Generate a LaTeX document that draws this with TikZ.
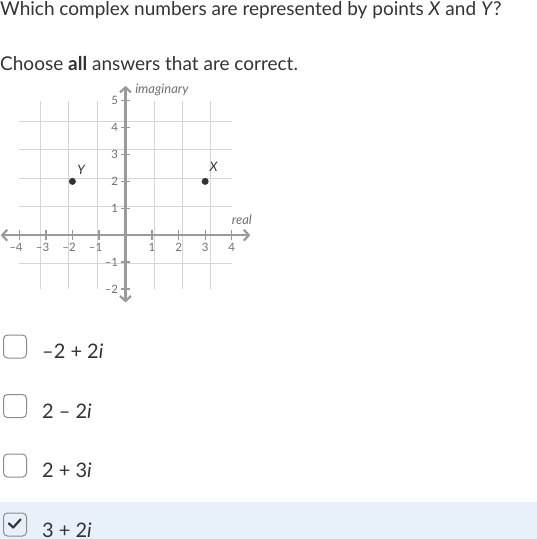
\documentclass[tikz,border=0pt]{standalone}
\usepackage{fontspec}
\setmainfont{Lato}
\usetikzlibrary{arrows.meta}
\usetikzlibrary{positioning}
\definecolor{ink}{HTML}{333333}
\definecolor{axisgray}{HTML}{9A9A9A}
\definecolor{gridgray}{HTML}{D6D6D6}
\definecolor{labelgray}{HTML}{707070}
\definecolor{boxgray}{HTML}{8C8C8C}
\definecolor{pickblue}{HTML}{E8F1FA}

\begin{document}
\begin{tikzpicture}[x=1pt,y=-1pt,
    head text/.style={anchor=base west,inner sep=0pt,text=ink,font=\fontsize{19}{21}\selectfont},
    opt text/.style={anchor=base west,inner sep=0pt,text=ink,font=\fontsize{20}{22}\selectfont},
    opt box/.style={draw=boxgray,line width=1pt,rounded corners=4pt,minimum size=23pt,inner sep=0pt},
    tick label/.style={text=labelgray,inner sep=0pt,font=\fontsize{11.5}{12}\selectfont},
    axis line/.style={draw=axisgray,line width=2.2pt,{Straight Barb[length=5pt,width=11pt]}-{Straight Barb[length=5pt,width=11pt]}},
    dot node/.style={circle,fill=ink,inner sep=0pt,minimum size=7pt},
    pt label/.style={text=ink,inner sep=0pt,font=\fontsize{13}{14}\selectfont\itshape}]
  \useasboundingbox (0,0) rectangle (537,539);

  % question
  \node[head text] (q1) at (0,15) {Which complex numbers are represented by points \textit{X} and \textit{Y}?};
  \node[head text] (q2) at (0,70) {Choose \textbf{all} answers that are correct.};

  % graph
  \begin{scope}[shift={(125.5,235.2)},x=26.55pt,y=26.9pt]
    \draw[gridgray,line width=0.8pt] (-4,-2) grid (4,5);
    \coordinate (xl) at (-4.7,0);
    \coordinate (xr) at (4.7,0);
    \coordinate (yb) at (0,-2.5);
    \coordinate (yt) at (0,5.55);
    \draw[axis line] (xl) -- (xr);
    \draw[axis line] (yb) -- (yt);
    \foreach \i in {-4,...,4} {
      \ifnum\i=0\else
        \draw[axisgray,line width=1.3pt] (\i,-0.18) -- (\i,0.18);
      \fi}
    \foreach \j in {-2,...,5} {
      \ifnum\j=0\else
        \draw[axisgray,line width=1.3pt] (-0.18,\j) -- (0.18,\j);
      \fi}
    \foreach \i in {1,...,4}
      \node[tick label] at (\i,-0.45) {\i};
    \foreach \i in {1,...,4}
      \node[tick label] at (-\i,-0.45) {\llap{–}\i};
    \foreach \j in {1,...,5}
      \node[tick label,anchor=east] at (-0.27,\j) {\j};
    \foreach \j in {1,2}
      \node[tick label,anchor=east] at (-0.27,-\j) {–\j};
    \node[tick label,anchor=base west,font=\fontsize{13}{14}\selectfont\itshape] (imag) at (0.36,5.26) {imaginary};
    \node[tick label,anchor=base west,font=\fontsize{13}{14}\selectfont\itshape] (real) at (4.0,0.38) {real};
    % points
    \node[dot node] (X) at (3,2) {};
    \node[dot node] (Y) at (-2,2) {};
    \node[pt label] at (3.32,2.53) {X};
    \node[pt label] at (-1.67,2.44) {Y};
  \end{scope}

  % answers
  \fill[pickblue] (0,502) rectangle (537,539);
  \node[opt box] (b1) at (15,346.5) {};
  \node[opt box] (b2) at (15,406) {};
  \node[opt box] (b3) at (15,465.5) {};
  \node[opt box] (b4) at (15,524.5) {};
  \node[opt text] (a1) at (42,358) {–2 + 2\textit{i}};
  \node[opt text] (a2) at (42,418) {2 – 2\textit{i}};
  \node[opt text] (a3) at (42,477) {2 + 3\textit{i}};
  \node[opt text] (a4) at (42,537) {3 + 2\textit{i}};
  \draw[ink,line width=2.2pt,line cap=round,line join=round] (9,523.5) -- (13.2,527.5) -- (20.5,519.5);
\end{tikzpicture}
\end{document}
